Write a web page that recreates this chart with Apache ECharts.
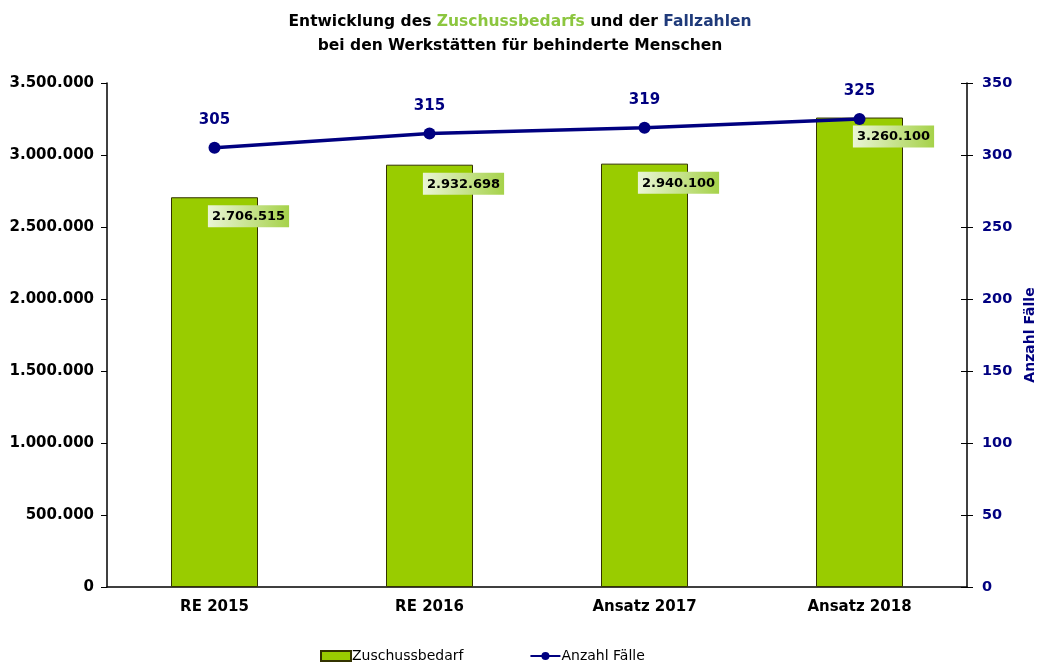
<!DOCTYPE html>
<html><head><meta charset="utf-8">
<script src="https://cdn.jsdelivr.net/npm/echarts@6/dist/echarts.min.js"></script>
<style>html,body{margin:0;padding:0;background:#fff}#c{width:1040px;height:665px}</style>
</head><body><div id="c"></div>
<script>
const categories = ['RE 2015', 'RE 2016', 'Ansatz 2017', 'Ansatz 2018'];
const zuschussbedarf = [2706515, 2932698, 2940100, 3260100];
const faelle = [305, 315, 319, 325];
const leftTicks = [0, 500000, 1000000, 1500000, 2000000, 2500000, 3000000, 3500000];
const rightTicks = [0, 50, 100, 150, 200, 250, 300, 350];

const fmt = v => String(v).replace(/\B(?=(\d{3})+(?!\d))/g, '.');
const FF = '"DejaVu Sans", sans-serif';
const chart = echarts.init(document.getElementById('c'), null, {renderer: 'canvas'});
chart.setOption({
  animation: false,
  title: {
    text: '{b|Entwicklung des }{g|Zuschussbedarfs}{b| und der }{n|Fallzahlen}\n{b|bei den Werkstätten für behinderte Menschen}',
    left: 'center', top: 5,
    textStyle: {
      rich: {
        b: {fontFamily: FF, fontWeight: 'bold', fontSize: 15.5, color: '#000', lineHeight: 24},
        g: {fontFamily: FF, fontWeight: 'bold', fontSize: 15.5, color: '#8cc63f', lineHeight: 24},
        n: {fontFamily: FF, fontWeight: 'bold', fontSize: 15.5, color: '#1f3a7a', lineHeight: 24}
      }
    }
  },
  legend: {
    bottom: -3, left: 315, itemGap: 66, itemWidth: 30, itemHeight: 10,
    textStyle: {fontFamily: FF, fontSize: 14, color: '#000', padding: [0,0,0,-4]},
    data: [
      {name: 'Zuschussbedarf', icon: 'rect'},
      {name: 'Anzahl Fälle'}
    ]
  },
  grid: {left: 107, right: 73, top: 83, bottom: 78, containLabel: false, outerBoundsMode: 'none'},
  xAxis: {
    type: 'category', data: categories,
    axisLine: {lineStyle: {color: '#000', width: 1.5}},
    axisTick: {show: false},
    axisLabel: {fontFamily: FF, fontWeight: 'bold', fontSize: 15, color: '#000', margin: 13}
  },
  yAxis: [
    {
      type: 'value', min: 0, max: 3500000, interval: 500000,
      axisLine: {show: true, lineStyle: {color: '#000', width: 1.5}},
      axisTick: {show: true, length: 6, lineStyle: {color: '#000'}},
      splitLine: {show: false},
      axisLabel: {fontFamily: FF, fontWeight: 'bold', fontSize: 15, color: '#000', margin: 13,
        formatter: v => leftTicks.includes(v) ? fmt(v) : ''}
    },
    {
      type: 'value', min: 0, max: 350, interval: 50, position: 'right',
      name: 'Anzahl Fälle', nameLocation: 'middle', nameGap: 45, nameRotate: 90,
      nameTextStyle: {fontFamily: FF, fontWeight: 'bold', fontSize: 14, color: '#000080'},
      axisLine: {show: true, lineStyle: {color: '#000', width: 1.5}},
      axisTick: {show: true, length: 6, inside: false, lineStyle: {color: '#000'}},
      splitLine: {show: false},
      axisLabel: {fontFamily: FF, fontWeight: 'bold', fontSize: 14.5, color: '#000080', margin: 15,
        formatter: v => rightTicks.includes(v) ? String(v) : ''}
    },
    {
      type: 'value', min: 0, max: 350, interval: 50, position: 'right',
      axisLine: {show: false},
      axisTick: {show: true, length: 6, inside: true, lineStyle: {color: '#000'}},
      splitLine: {show: false},
      axisLabel: {show: false}
    }
  ],
  series: [
    {
      name: 'Zuschussbedarf', type: 'bar', yAxisIndex: 0, data: zuschussbedarf,
      barWidth: 87,
      itemStyle: {color: '#99cc00', borderColor: '#333300', borderWidth: 1},
      label: {
        show: true, position: 'top', offset: [34, 35],
        formatter: p => fmt(p.value),
        fontFamily: FF, fontWeight: 'bold', fontSize: 13, color: '#000',
        padding: [5, 4, 4, 4],
        backgroundColor: new echarts.graphic.LinearGradient(0, 0, 1, 0, [
          {offset: 0, color: '#eaf5d6'}, {offset: 1, color: '#a6d24a'}
        ])
      },
      z: 2
    },
    {
      name: 'Anzahl Fälle', type: 'line', yAxisIndex: 1, data: faelle,
      symbol: 'circle', symbolSize: 12,
      lineStyle: {color: '#000080', width: 3.5},
      itemStyle: {color: '#000080'},
      label: {show: true, position: 'top', distance: 14,
        fontFamily: FF, fontWeight: 'bold', fontSize: 15, color: '#000080'},
      z: 3
    }
  ]
});
</script></body></html>
